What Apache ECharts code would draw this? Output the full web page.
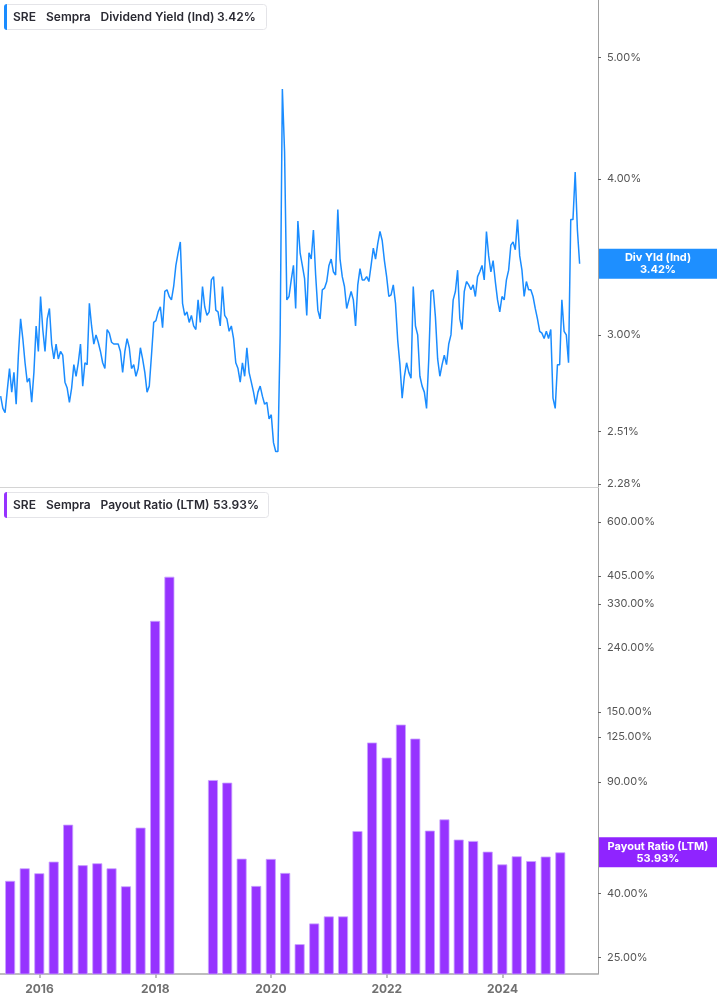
<!DOCTYPE html>
<html><head><meta charset="utf-8">
<script src="https://cdn.jsdelivr.net/npm/echarts@6/dist/echarts.min.js"></script>
<style>html,body{margin:0;padding:0;background:#fff}#c{width:717px;height:1005px}</style>
</head><body><div id="c"></div>
<script>
// Dividend yield (%), sampled every 14 days starting 2015-05-01
const yieldStart = '2015-05-01';
const yieldStepDays = 14;
const yieldValues = [
2.68,2.62,2.60,2.71,2.82,2.70,2.80,2.64,2.89,3.09,
2.98,2.85,2.75,2.77,2.65,2.80,3.05,2.91,3.22,3.03,
2.91,3.09,3.15,2.95,2.87,2.95,2.87,2.91,2.89,2.75,
2.72,2.65,2.72,2.84,2.78,2.85,2.95,2.73,2.85,2.84,
3.18,3.05,2.95,3.00,2.96,2.91,2.85,2.82,3.03,3.01,
2.96,2.95,2.95,2.95,2.91,2.80,2.91,2.98,2.93,2.82,
2.84,2.78,2.82,2.93,2.87,2.80,2.70,2.73,2.89,3.07,
3.08,3.13,3.16,3.04,3.25,3.26,3.22,3.20,3.28,3.41,
3.49,3.56,3.18,3.11,3.13,3.07,3.11,3.05,3.03,3.20,
3.07,3.28,3.16,3.11,3.13,3.32,3.34,3.14,3.13,3.05,
3.28,3.11,3.09,3.02,3.05,2.98,2.85,2.82,2.75,2.85,
2.78,2.93,2.80,2.75,2.70,2.64,2.70,2.73,2.68,2.64,
2.65,2.57,2.59,2.46,2.42,2.42,3.00,4.72,4.20,3.20,
3.22,3.32,3.41,3.15,3.70,3.49,3.41,3.33,3.11,3.49,
3.45,3.64,3.35,3.14,3.09,3.26,3.27,3.31,3.41,3.45,
3.37,3.35,3.78,3.45,3.34,3.28,3.15,3.20,3.25,3.20,
3.05,3.29,3.39,3.32,3.32,3.34,3.31,3.41,3.52,3.45,
3.55,3.63,3.57,3.44,3.34,3.22,3.23,3.29,3.18,2.97,
2.84,2.67,2.78,2.85,2.80,2.77,3.28,3.05,3.00,2.78,
2.73,2.70,2.62,2.87,3.25,3.26,3.10,2.87,2.78,2.84,
2.89,2.84,2.95,3.00,3.20,3.25,3.38,3.09,3.03,3.25,
3.31,3.29,3.26,3.29,3.22,3.34,3.37,3.41,3.32,3.63,
3.47,3.37,3.44,3.31,3.20,3.13,3.22,3.20,3.32,3.38,
3.54,3.56,3.51,3.71,3.47,3.38,3.22,3.31,3.26,3.26,
3.22,3.15,3.09,3.02,3.01,2.98,3.02,2.98,3.03,2.67,
2.62,2.84,2.84,3.20,3.02,3.00,2.85,3.71,3.71,4.05,
3.64,3.42
];
// Payout ratio (LTM, %) by quarter end
const payoutDates = [
'2015-06-30','2015-09-30','2015-12-31',
'2016-03-31','2016-06-30','2016-09-30','2016-12-31',
'2017-03-31','2017-06-30','2017-09-30','2017-12-31',
'2018-03-31','2018-06-30','2018-09-30','2018-12-31',
'2019-03-31','2019-06-30','2019-09-30','2019-12-31',
'2020-03-31','2020-06-30','2020-09-30','2020-12-31',
'2021-03-31','2021-06-30','2021-09-30','2021-12-31',
'2022-03-31','2022-06-30','2022-09-30','2022-12-31',
'2023-03-31','2023-06-30','2023-09-30','2023-12-31',
'2024-03-31','2024-06-30','2024-09-30','2024-12-31'
];
const payoutValues = [
43.8,48.0,46.3,
50.4,66.0,49.1,49.8,
48.0,42.1,64.6,292,
403,null,null,91.4,
89.7,51.5,42.2,51.4,
46.4,27.6,32.1,33.8,
33.8,63.0,120.2,107.7,
137,123.7,63.2,68.6,
59.2,58.6,54.2,49.4,
52.4,50.6,52.3,53.93
];
const yieldTicks = [2.28, 2.51, 3.00, 4.00, 5.00];
const payoutTicks = [25, 40, 90, 125, 150, 240, 330, 405, 600];
const yearTicks = ['2016-01-01','2018-01-01','2020-01-01','2022-01-01','2024-01-01'];

const ts = s => new Date(s + 'T00:00:00').getTime();
const t0 = ts(yieldStart);
const yieldData = yieldValues.map((v, i) => [t0 + i * yieldStepDays * 86400000, v]);
const payoutData = payoutDates.map((d, i) => [ts(d), payoutValues[i]]);
const yearTs = yearTicks.map(ts);
const xMin = ts('2015-04-27'), xMax = ts('2025-08-26');
const lastYield = yieldValues[yieldValues.length - 1];
const lastPayout = payoutValues[payoutValues.length - 1];
const FONT = 'Inter, Roboto, sans-serif';
const BLUE = '#1a8cff', PURPLE = '#9633ff';

const chart = echarts.init(document.getElementById('c'));
const pct = v => Number(v).toFixed(2) + '%';

function header(y, color, items, w) {
  const els = [
    {type:'rect', z:100, shape:{x:4.5, y:y+0.5, width:w, height:25, r:3}, style:{fill:'#fff', stroke:'#e4e4e8', lineWidth:1}},
    {type:'rect', z:101, shape:{x:4, y:y, width:3, height:26, r:[3,0,0,3]}, style:{fill:color}}
  ];
  items.forEach(([t, x]) => els.push({type:'text', z:102, x:x, y:y+13, style:{text:t, fill:'#2a2a33', fontSize:12, fontWeight:600, fontFamily:FONT, verticalAlign:'middle'}}));
  return els;
}

function tag(value, name, color) {
  return {
    silent:true, symbol:'none', animation:false,
    lineStyle:{color:'rgba(0,0,0,0)', width:0, type:'solid'},
    data:[{yAxis:value}],
    label:{show:true, position:'end', distance:1, backgroundColor:color, padding:[3,0,3,0],
      formatter:'{a|' + name + '}\n{a|' + pct(value) + '}',
      rich:{a:{color:'#fff', fontWeight:'bold', fontSize:11, fontFamily:FONT, width:118, align:'center', lineHeight:12}}}
  };
}

chart.setOption({
  animation: false,
  grid: [
    {left:0, right:119, top:0, height:487},
    {left:0, right:119, top:488, bottom:31}
  ],
  xAxis: [
    {type:'value', gridIndex:0, min:xMin, max:xMax,
     axisLine:{show:true, lineStyle:{color:'#d4d4d4', width:1}},
     axisTick:{show:false}, axisLabel:{show:false}, splitLine:{show:false}},
    {type:'value', gridIndex:1, min:xMin, max:xMax,
     axisLine:{show:true, lineStyle:{color:'#a8a8a8', width:1.5}},
     axisTick:{show:true, customValues:yearTs, length:4, lineStyle:{color:'#a8a8a8', width:1.5}},
     axisLabel:{show:true, customValues:yearTs, formatter:v => String(new Date(v).getFullYear()),
       color:'#707070', fontWeight:'bold', fontSize:12, fontFamily:FONT, margin:9},
     splitLine:{show:false}}
  ],
  yAxis: [
    {type:'log', logBase:10, gridIndex:0, position:'right', min:2.267, max:5.56,
     axisLine:{show:true, lineStyle:{color:'#a0a0a0', width:1}},
     axisTick:{show:true, customValues:yieldTicks, length:3, lineStyle:{color:'#666'}},
     axisLabel:{show:true, customValues:yieldTicks, formatter:pct, color:'#555', fontSize:11, fontFamily:FONT, margin:9},
     splitLine:{show:false}},
    {type:'log', logBase:10, gridIndex:1, position:'right', min:22.2, max:770,
     axisLine:{show:true, lineStyle:{color:'#a0a0a0', width:1}},
     axisTick:{show:true, customValues:payoutTicks, length:3, lineStyle:{color:'#666'}},
     axisLabel:{show:true, customValues:payoutTicks, formatter:pct, color:'#555', fontSize:11, fontFamily:FONT, margin:9},
     splitLine:{show:false}}
  ],
  series: [
    {type:'line', xAxisIndex:0, yAxisIndex:0, data:yieldData, showSymbol:false, symbol:'none',
     lineStyle:{color:BLUE, width:1.5}, z:3,
     markLine: tag(lastYield, 'Div Yld (Ind)', '#1e8fff')},
    {type:'bar', xAxisIndex:1, yAxisIndex:1, data:payoutData, barWidth:10,
     itemStyle:{color:PURPLE, borderColor:'#c9a3ff', borderWidth:0.8}, z:3,
     markLine: tag(lastPayout, 'Payout Ratio (LTM)', '#8f24ff')}
  ],
  graphic: [].concat(
    header(4, BLUE, [['SRE',13],['Sempra',46],['Dividend Yield (Ind)',100.5],[pct(lastYield),217]], 262),
    header(492, PURPLE, [['SRE',13],['Sempra',46],['Payout Ratio (LTM)',100.5],[pct(lastPayout),213]], 264)
  )
});
</script></body></html>
